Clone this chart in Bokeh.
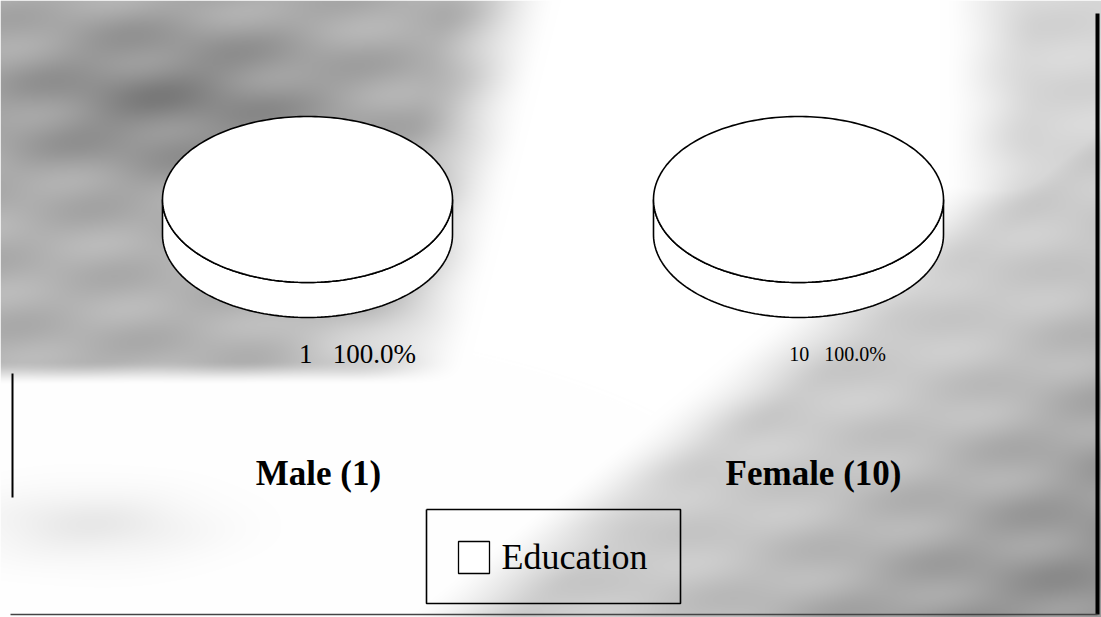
import numpy as np
from bokeh.plotting import figure
from bokeh.models import Range1d
from bokeh.core.properties import value
from bokeh.embed import file_html
from bokeh.resources import INLINE

# ---------------- data ----------------
genders = ["Male", "Female"]
categories = ["Education"]
male_counts = [1]
female_counts = [10]
counts_by_gender = [male_counts, female_counts]

# ---------------- layout (reference pixel coords, y down) ----------------
W, H = 1101, 617


def fy(y):  # reference y (down) -> data y (up)
    return H - y


pie_cx = [307, 798]
pie_cy = 199
rx, ry, depth = 145, 83, 35
label_cx = [357, 837]
label_sizes = ["27px", "20px"]
title_cx = [318, 813]
NB = "\u00a0"

p = figure(width=W, height=H, x_range=Range1d(0, W), y_range=Range1d(0, H),
           output_backend="svg", toolbar_location=None, min_border=0)
p.axis.visible = False
p.grid.visible = False
p.outline_line_color = None
p.background_fill_color = "white"
p.border_fill_color = "white"

# ---------------- background texture (decoration) ----------------
xs = np.arange(0, W) + 0.5
ys = np.arange(0, H) + 0.5
X, Y = np.meshgrid(xs, ys)


def smooth(e0, e1, v):
    t = np.clip((v - e0) / (e1 - e0), 0, 1)
    return t * t * (3 - 2 * t)


g = np.ones_like(X)
# upper-left grey patch
dl = X + 0.25 * Y
wl = (1 - smooth(440, 560, dl)) * (1 - smooth(360, 385, Y))
shade_l = 0.70 - 0.17 * np.exp(-(((X - 170) / 170) ** 2 + ((Y - 100) / 80) ** 2)) \
    + 0.14 * np.exp(-(((X - 380) / 90) ** 2 + ((Y - 345) / 40) ** 2))
g = g * (1 - wl) + shade_l * wl
# right / lower-right grey region
dr = X + 1.25 * Y
wr = np.maximum(smooth(1170, 1300, dr), 0.8 * smooth(940, 1040, X))
shade_r = 0.80 - 0.22 * smooth(1300, 1850, dr)
g = g * (1 - wr) + shade_r * wr
# faint grey patch at lower left
wb = np.exp(-(((X - 90) / 110) ** 2 + ((Y - 525) / 35) ** 2)) * 0.5
g = g * (1 - wb) + 0.84 * wb
# subtle blotchy texture
tex = np.sin(Y / 11.0 + X / 70.0) * np.cos(X / 37.0 - Y / 90.0)
g = g - 0.12 * tex * (1 - g)
g = np.clip(g, 0, 1)
gray = (g * 255).astype(np.uint8)
img = np.zeros((H, W, 4), dtype=np.uint8)
img[..., 0] = gray
img[..., 1] = gray
img[..., 2] = gray
img[..., 3] = 255
img = np.flipud(img).copy()
p.image_rgba(image=[img.view(np.uint32).reshape(H, W)], x=0, y=0, dw=W, dh=H)

# frame lines of the scanned page
p.line([1097, 1097], [fy(13), fy(614)], line_color="black", line_width=4)
p.line([12, 12], [fy(373), fy(497)], line_color="black", line_width=2)
p.line([10, 1097], [fy(614), fy(614)], line_color="#444444", line_width=1.5)

# ---------------- 3D pies ----------------
for gi, counts in enumerate(counts_by_gender):
    total = sum(counts)
    cx = pie_cx[gi]
    cy = fy(pie_cy)
    start = np.pi / 2
    # side (front half) of the cylinder
    th = np.linspace(np.pi, 2 * np.pi, 120)
    top_x = cx + rx * np.cos(th)
    top_y = cy + ry * np.sin(th)
    side_x = np.concatenate([top_x, top_x[::-1]])
    side_y = np.concatenate([top_y, top_y[::-1] - depth])
    p.patch(side_x, side_y, fill_color="white", line_color="black", line_width=1.6)
    for ci, c in enumerate(counts):
        frac = c / total
        a = np.linspace(start, start - 2 * np.pi * frac, 240)
        px = cx + rx * np.cos(a)
        py = cy + ry * np.sin(a)
        if frac < 1:
            px = np.concatenate([[cx], px])
            py = np.concatenate([[cy], py])
        p.patch(px, py, fill_color="white", line_color="black", line_width=1.6)
        start -= 2 * np.pi * frac
        pct = 100.0 * frac
        p.text(x=[label_cx[gi]], y=[fy(353)], text=[f"{c}{NB * 3}{pct:.1f}%"],
               text_font=value("Liberation Serif"), text_font_size=label_sizes[gi],
               text_align="center", text_baseline="middle", text_color="black")
    p.text(x=[title_cx[gi]], y=[fy(473)], text=[f"{genders[gi]} ({total})"],
           text_font=value("Liberation Serif"), text_font_style="bold",
           text_font_size="35px", text_align="center", text_baseline="middle",
           text_color="black")

# ---------------- legend ----------------
lx0, lx1, ly0, ly1 = 426, 680, 509, 603
p.line([lx0, lx1, lx1, lx0, lx0], [fy(ly0), fy(ly0), fy(ly1), fy(ly1), fy(ly0)],
       line_color="black", line_width=1.6)
for k, cat in enumerate(categories):
    p.quad(left=[458], right=[489], top=[fy(541)], bottom=[fy(573)],
           fill_color="white", line_color="black", line_width=1.3)
    p.text(x=[501], y=[fy(556)], text=[cat], text_font=value("Liberation Serif"),
           text_font_size="36px", text_align="left", text_baseline="middle",
           text_color="black")

open("out.html", "w").write(file_html(p, INLINE))
